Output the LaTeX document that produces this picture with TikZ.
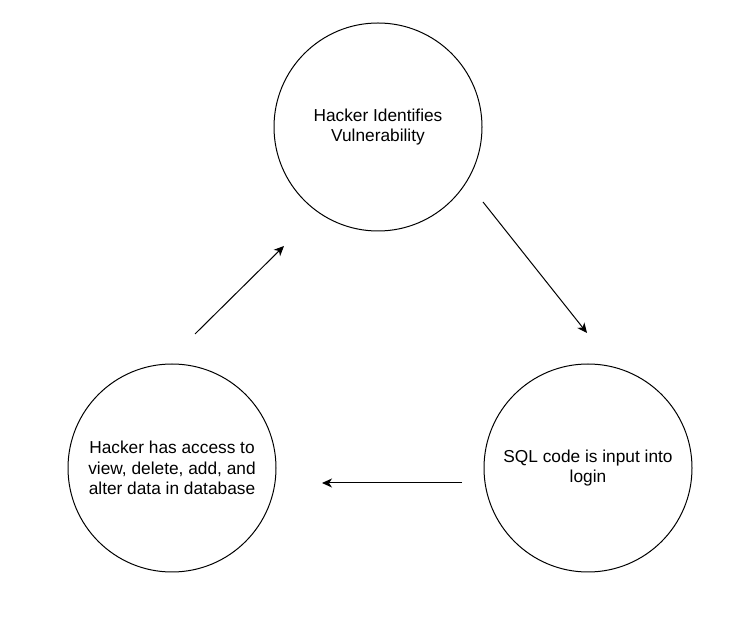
\documentclass[tikz,border=0pt]{standalone}
\usepackage{fontspec}
\setmainfont{Liberation Sans}
\usetikzlibrary{arrows.meta}
\definecolor{mainBlack}{gray}{0.0}

\begin{document}
\begin{tikzpicture}[x=1pt, y=1pt, >={Stealth[length=10pt, width=9pt, inset=3pt]},
    stage/.style={circle, draw=mainBlack, line width=1pt, minimum size=208pt, inner sep=0pt,
        align=center, font=\fontsize{17.3}{20.5}\selectfont},
    flow/.style={->, line width=1pt, mainBlack}]
    \useasboundingbox (0,0) rectangle (736,626);

    % stages
    \node[stage] (vuln) at (378,499) {Hacker Identifies\\Vulnerability};
    \node[stage] (inject) at (588,158) {SQL code is input into\\login};
    \node[stage] (access) at (172,158) {Hacker has access to\\view, delete, add, and\\alter data in database};

    % arrow ends, they stop short of the circles
    \coordinate (vulnOut) at (483,424);
    \coordinate (injectIn) at (587,293);
    \coordinate (injectOut) at (462,143);
    \coordinate (accessIn) at (322,143);
    \coordinate (accessOut) at (195,292);
    \coordinate (vulnIn) at (284,380);

    \draw[flow] (vulnOut) -- (injectIn);
    \draw[flow] (injectOut) -- (accessIn);
    \draw[flow] (accessOut) -- (vulnIn);
\end{tikzpicture}
\end{document}
